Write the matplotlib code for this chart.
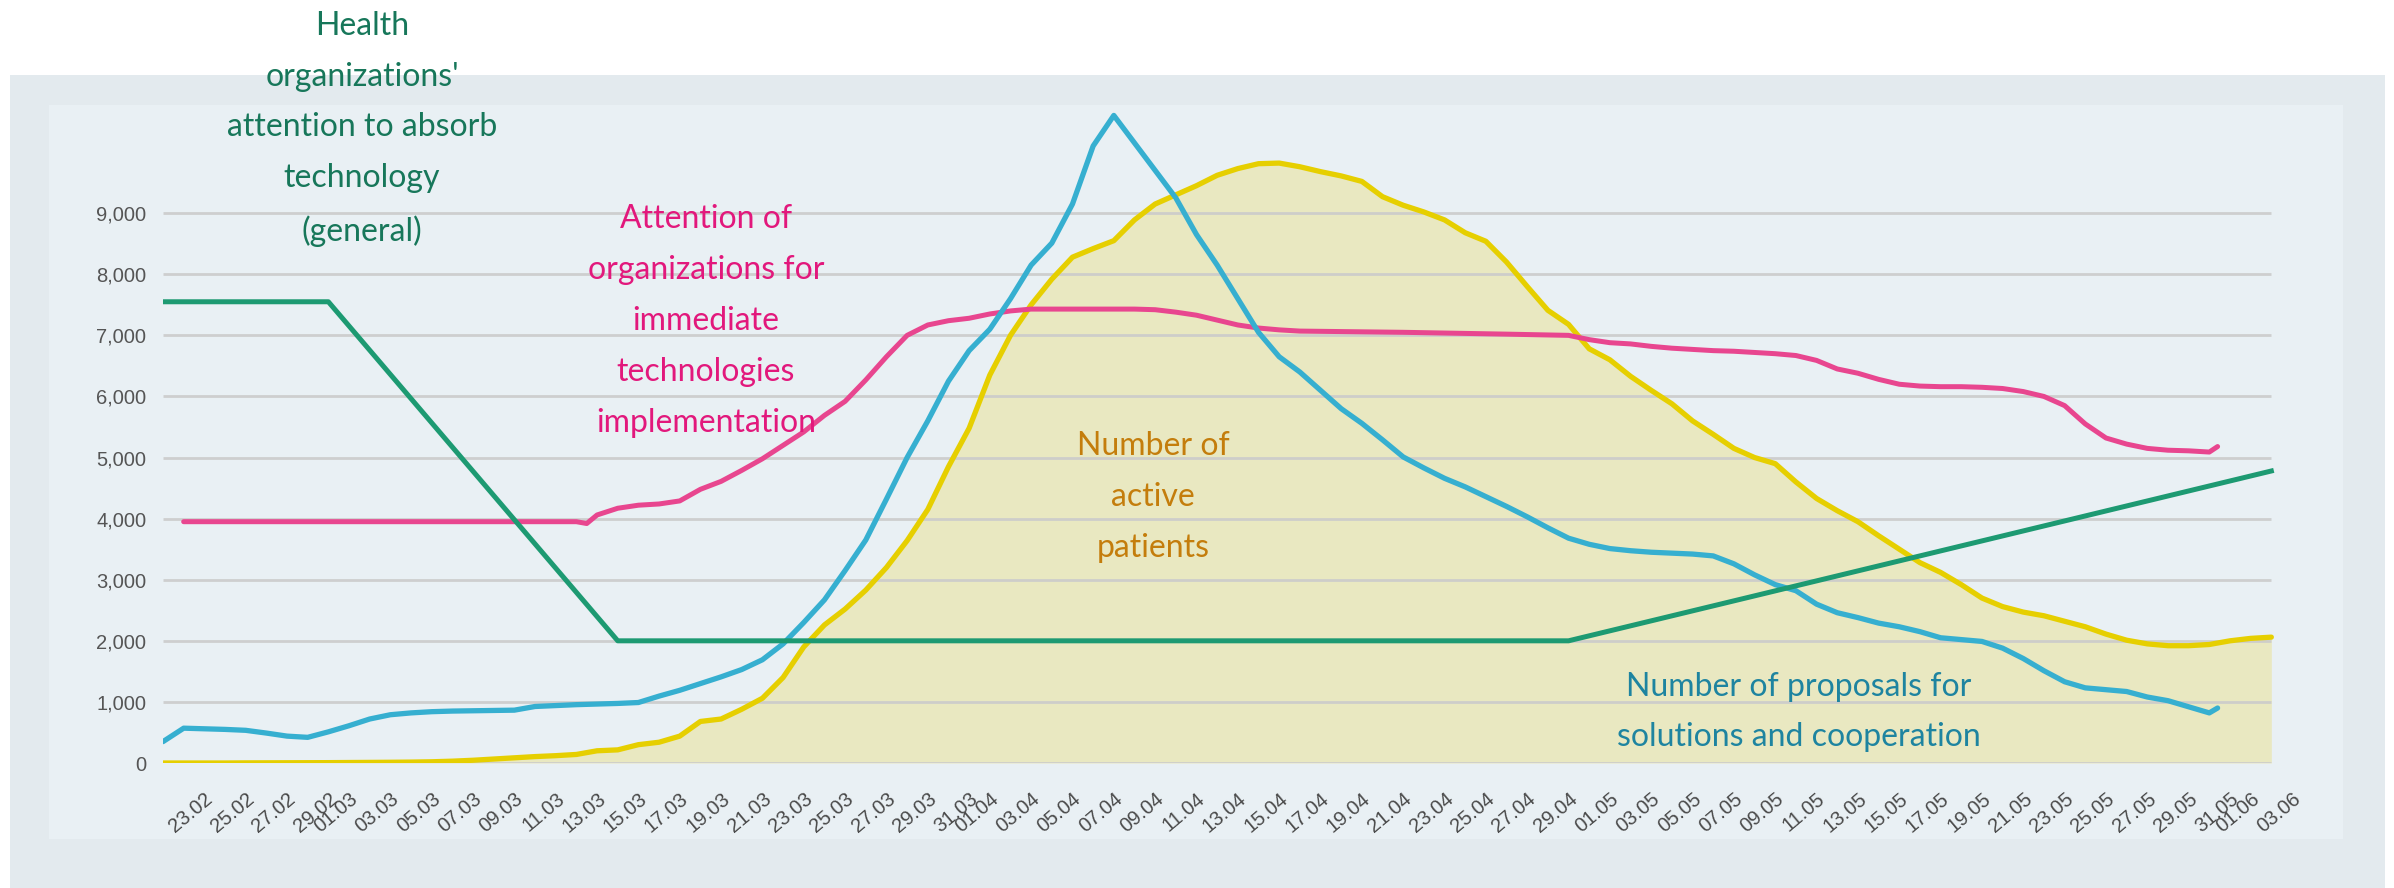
import datetime as dt
import matplotlib
matplotlib.use("Agg")
import matplotlib.pyplot as plt
import matplotlib.dates as mdates
from matplotlib.patches import Rectangle
from matplotlib.ticker import FuncFormatter

start = dt.datetime(2020, 2, 21)

# days counted from 21.02
active_days = list(range(0, 103))
active_vals = [0, 0, 0, 0, 2, 3, 4, 5, 6, 8, 10, 12, 15, 20, 30, 45, 65, 85, 105, 120,
               140, 200, 215, 300, 340, 440, 680, 720, 880, 1060, 1400, 1900, 2260, 2520, 2830, 3200, 3640, 4150, 4850, 5480,
               6350, 7000, 7500, 7920, 8280, 8420, 8550, 8890, 9150, 9300, 9450, 9620, 9730, 9810, 9820, 9760, 9680, 9610, 9520, 9270,
               9130, 9020, 8890, 8680, 8540, 8200, 7800, 7410, 7180, 6780, 6600, 6330, 6100, 5880, 5600, 5380, 5150, 5000, 4900, 4600,
               4330, 4130, 3950, 3720, 3500, 3280, 3120, 2920, 2700, 2560, 2470, 2410, 2320, 2230, 2110, 2010, 1950, 1920, 1920, 1940,
               2000, 2040, 2060]

proposal_days = list(range(0, 100)) + [99.4]
proposal_vals = [350, 570, 560, 550, 535, 490, 440, 420, 510, 610, 720, 790, 820, 840, 850, 855, 860, 865, 925, 940,
                 955, 965, 975, 990, 1095, 1190, 1300, 1410, 1530, 1690, 1950, 2300, 2670, 3150, 3650, 4320, 5000, 5600, 6250, 6750,
                 7100, 7600, 8150, 8510, 9150, 10100, 10600, 10150, 9700, 9250, 8650, 8150, 7600, 7050, 6650, 6400, 6100, 5800, 5560, 5290,
                 5010, 4830, 4660, 4520, 4360, 4200, 4030, 3850, 3680, 3580, 3510, 3475, 3450, 3435, 3420, 3390, 3260, 3080, 2920, 2820,
                 2600, 2460, 2380, 2290, 2230, 2150, 2050, 2020, 1990, 1880, 1710, 1510, 1330, 1230, 1200, 1170, 1080, 1020, 920, 820,
                 900]

immediate_days = [1, 20, 20.5, 21, 22, 23, 24, 25, 26, 27, 28, 29, 30, 31, 32, 33, 34, 35, 36, 37,
                  38, 39, 40, 41, 42, 47, 48, 49, 50, 51, 52, 53, 54, 55, 60, 65, 68, 69, 70, 71,
                  72, 73, 74, 75, 76, 77, 78, 79, 80, 81, 82, 83, 84, 85, 86, 87, 88, 89, 90, 91,
                  92, 93, 94, 95, 96, 97, 98, 99, 99.4]
immediate_vals = [3950, 3950, 3920, 4060, 4170, 4220, 4240, 4290, 4480, 4610, 4790, 4980, 5200, 5420, 5690, 5920, 6270, 6650, 7000, 7170,
                  7240, 7280, 7350, 7400, 7430, 7430, 7420, 7380, 7330, 7250, 7170, 7120, 7090, 7070, 7050, 7020, 7000, 6930, 6880, 6860,
                  6820, 6790, 6770, 6750, 6740, 6720, 6700, 6670, 6590, 6450, 6380, 6280, 6200, 6170, 6160, 6160, 6150, 6130, 6080, 6000,
                  5850, 5550, 5320, 5220, 5150, 5120, 5110, 5090, 5180]

general_days = [0, 8, 22, 68, 102]
general_vals = [7550, 7550, 2000, 2000, 4780]

y_ticks = [0, 1000, 2000, 3000, 4000, 5000, 6000, 7000, 8000, 9000]


def to_dates(days):
    return [start + dt.timedelta(days=d) for d in days]


W, H = 2394, 888
fig = plt.figure(figsize=(W / 100, H / 100), dpi=100, facecolor="white")

# panels behind the chart
bg = fig.add_axes([0, 0, 1, 1], zorder=-10)
bg.set_xlim(0, W)
bg.set_ylim(H, 0)
bg.axis("off")
bg.add_patch(Rectangle((10, 75), 2375, H - 75, facecolor="#e3eaee", edgecolor="none"))
bg.add_patch(Rectangle((49, 105), 2294, 839 - 105, facecolor="#e9f0f4", edgecolor="none"))

ax = fig.add_axes([163 / W, 1 - 763 / H, (2292 - 163) / W, (763 - 91) / H], zorder=1)
ax.set_facecolor("none")
for s in ax.spines.values():
    s.set_visible(False)

x_end = start + dt.timedelta(days=102)
ax.fill_between(to_dates(active_days), 0, active_vals, color="#e9e8c1", lw=0, zorder=1)
ax.hlines(y_ticks, start, x_end, color="#cbcbcb", lw=2, zorder=2, alpha=0.9)

ax.plot(to_dates(active_days), active_vals, color="#e6cf00", lw=3.8, zorder=3, solid_capstyle="round")
ax.plot(to_dates(immediate_days), immediate_vals, color="#e8468f", lw=3.6, zorder=4, solid_capstyle="round")
ax.plot(to_dates(proposal_days), proposal_vals, color="#36afd0", lw=3.8, zorder=5, solid_capstyle="round")
ax.plot(to_dates(general_days), general_vals, color="#1d9a72", lw=3.6, zorder=6)

ax.set_xlim(start, start + dt.timedelta(days=103))
ax.set_ylim(0, 11000)

tick_dates = [start + dt.timedelta(days=d) for d in range(1, 104)]
tick_dates = [d for d in tick_dates if d.day % 2 == 1]
ax.set_xticks(tick_dates)
ax.xaxis.set_major_formatter(mdates.DateFormatter("%d.%m"))
ax.set_yticks(y_ticks)
ax.yaxis.set_major_formatter(FuncFormatter(lambda v, p: "{:,}".format(int(v))))
ax.tick_params(axis="both", length=0, colors="#4a4a4a", labelsize=14.5)
ax.tick_params(axis="y", pad=12)
ax.tick_params(axis="x", pad=19)
for lab in ax.get_xticklabels():
    lab.set_rotation(40)
    lab.set_ha("right")
    lab.set_rotation_mode("anchor")
    lab.set_family("Liberation Sans")
for lab in ax.get_yticklabels():
    lab.set_family("Liberation Sans")
    lab.set_color("#555555")

font = "Lato"
fs = 23
ls = 1.87
fig.text(362 / W, 1 - 129 / H, "Health\norganizations'\nattention to absorb\ntechnology\n(general)",
         ha="center", va="center", color="#17775a", fontsize=fs, family=font, linespacing=ls)
fig.text(706 / W, 1 - 321 / H, "Attention of\norganizations for\nimmediate\ntechnologies\nimplementation",
         ha="center", va="center", color="#e2187c", fontsize=fs, family=font, linespacing=ls)
fig.text(1153 / W, 1 - 497 / H, "Number of\nactive\npatients",
         ha="center", va="center", color="#c47d0c", fontsize=fs, family=font, linespacing=ls)
fig.text(1799 / W, 1 - 712 / H, "Number of proposals for\nsolutions and cooperation",
         ha="center", va="center", color="#1e84a0", fontsize=fs, family=font, linespacing=ls)

fig.savefig("out.png", dpi=100, facecolor="white")
